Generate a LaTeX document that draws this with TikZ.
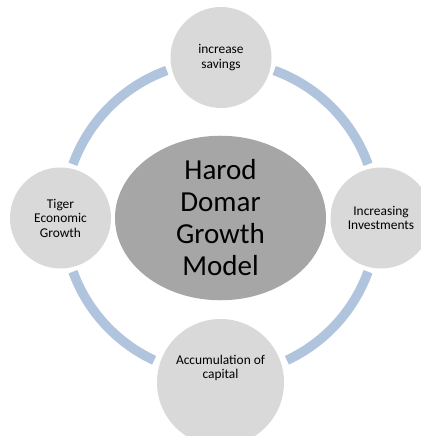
\documentclass[tikz,border=0pt]{standalone}
\usepackage{fontspec}
\setmainfont{Carlito}
\usetikzlibrary{shapes.geometric}
\definecolor{ringblue}{RGB}{176,196,222}
\definecolor{bubblegray}{RGB}{217,217,217}
\definecolor{coregray}{RGB}{166,166,166}

\begin{document}
\begin{tikzpicture}[x=1pt,y=1pt,
    bubble/.style={circle, fill=bubblegray, minimum size=101pt, inner sep=0pt, align=center, font=\fontsize{13.4}{14.5}\selectfont},
    core/.style={ellipse, fill=coregray, minimum width=211pt, minimum height=150pt, inner sep=0pt, align=center, font=\fontsize{29}{32}\selectfont},
    ring/.style={ringblue, line width=9.5pt}]
    \useasboundingbox (0,0) rectangle (420,436);
    % centre of the cycle
    \node[core] (model) at (220.5,218) {Harod\\Domar\\Growth\\Model};
    % ring pieces between the bubbles
    \draw[ring] ([shift={(20:157)}]model.center) arc[start angle=20, end angle=70, radius=157];
    \draw[ring] ([shift={(110:157)}]model.center) arc[start angle=110, end angle=160, radius=157];
    \draw[ring] ([shift={(200:157)}]model.center) arc[start angle=200, end angle=245, radius=157];
    \draw[ring] ([shift={(295:157)}]model.center) arc[start angle=295, end angle=340, radius=157];
    % bubbles
    \node[bubble] (savings) at (221,378.5) {increase\\savings};
    \node[bubble] (invest) at (381,218) {Increasing\\Investments};
    \node[bubble] (tiger) at (60.5,218) {Tiger\\Economic\\Growth};
    \node[bubble, minimum size=127pt] (capital) at (220.5,53.5) {};
    \node[align=center, font=\fontsize{13.4}{14.5}\selectfont] (capitaltext) at (220.5,68) {Accumulation of\\capital};
\end{tikzpicture}
\end{document}
